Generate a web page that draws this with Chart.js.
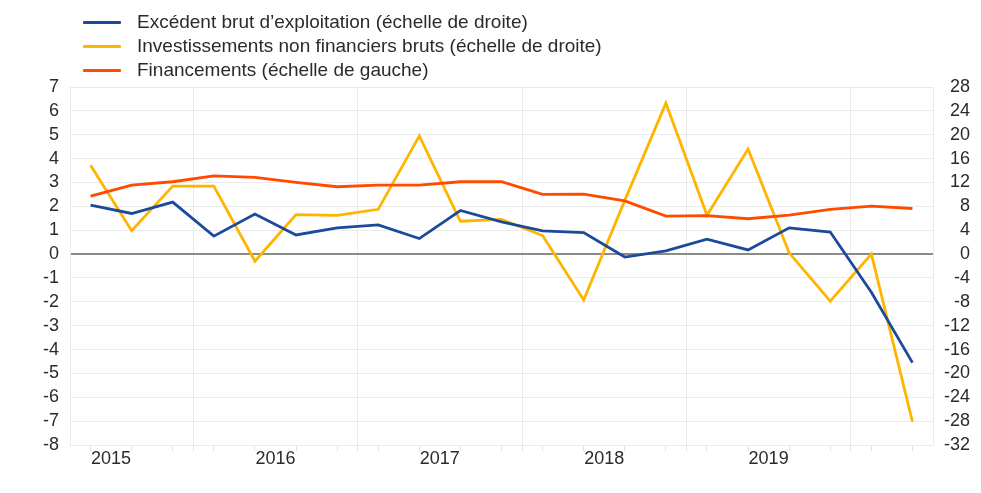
<!DOCTYPE html>
<html>
<head>
<meta charset="utf-8">
<script src="https://cdn.jsdelivr.net/npm/chart.js@4"></script>
<style>
  html, body { margin: 0; padding: 0; background: #fff; }
  #wrap { position: relative; width: 981px; height: 493px; }
  #legend { position: absolute; left: 83px; top: 10px; font-family: "Liberation Sans", Arial, Helvetica, sans-serif; font-size: 19px; color: #2b2b2b; }
  .item { position: relative; height: 24px; line-height: 24px; white-space: nowrap; }
  .swatch { position: absolute; left: 0; top: 11px; width: 38px; height: 3px; border-radius: 1px; }
  .label { position: absolute; left: 54px; top: 0; }
</style>
</head>
<body>
<div id="wrap">
  <canvas id="c" width="981" height="493"></canvas>
  <div id="legend"></div>
</div>
<script>
// Quarterly categories (2015 Q2 - 2020 Q2)
const quarters = ['2015Q2','2015Q3','2015Q4','2016Q1','2016Q2','2016Q3','2016Q4','2017Q1','2017Q2','2017Q3','2017Q4',
                  '2018Q1','2018Q2','2018Q3','2018Q4','2019Q1','2019Q2','2019Q3','2019Q4','2020Q1','2020Q2'];
// Year tick labels
const years = ['2015','2016','2017','2018','2019'];
// Series names
const seriesNames = ['Excédent brut d\u2019exploitation (échelle de droite)',
                     'Investissements non financiers bruts (échelle de droite)',
                     'Financements (échelle de gauche)'];
// Right scale
const excedent = [8.2, 6.8, 8.7, 3.0, 6.7, 3.2, 4.4, 4.9, 2.6, 7.3, 5.4, 3.9, 3.6, -0.5, 0.55, 2.5, 0.7, 4.4, 3.7, -6.4, -18.2];
const investissements = [14.9, 3.9, 11.4, 11.4, -1.2, 6.6, 6.5, 7.5, 19.8, 5.5, 5.8, 3.1, -7.7, 9.0, 25.3, 6.5, 17.6, 0.2, -7.9, 0.0, -28.1];
// Left scale
const financements = [2.43, 2.89, 3.03, 3.28, 3.21, 3.0, 2.82, 2.89, 2.89, 3.03, 3.03, 2.5, 2.51, 2.23, 1.59, 1.61, 1.48, 1.63, 1.87, 2.01, 1.91];
// Axis ticks
const leftTicks = [-8,-7,-6,-5,-4,-3,-2,-1,0,1,2,3,4,5,6,7];
const rightTicks = [-32,-28,-24,-20,-16,-12,-8,-4,0,4,8,12,16,20,24,28];

const colors = ['#1b4a9c', '#ffb400', '#ff4b00'];
const FONT = '"Liberation Sans", Arial, Helvetica, sans-serif';

function pts(arr) { return arr.map((v, i) => ({x: i, y: v})); }

// x ticks: data positions, year boundaries and year label positions
const yearBoundaries = [];
const yearCenters = [];
quarters.forEach((q, i) => {
  if (q.endsWith('Q4') && i + 1 < quarters.length) yearBoundaries.push(i + 0.5);
  if (q.endsWith('Q2') && years.includes(q.slice(0, 4))) yearCenters.push(i + 0.5);
});
function isBoundary(v) { return yearBoundaries.some(b => Math.abs(b - v) < 1e-6); }
function centerIndex(v) { return yearCenters.findIndex(b => Math.abs(b - v) < 1e-6); }

const ctx = document.getElementById('c').getContext('2d');
const chart = new Chart(ctx, {
  type: 'line',
  data: {
    datasets: [
      { label: seriesNames[0], data: pts(excedent), yAxisID: 'yR', borderColor: colors[0], backgroundColor: colors[0], order: 1 },
      { label: seriesNames[1], data: pts(investissements), yAxisID: 'yR', borderColor: colors[1], backgroundColor: colors[1], order: 2 },
      { label: seriesNames[2], data: pts(financements), yAxisID: 'y', borderColor: colors[2], backgroundColor: colors[2], order: 0 }
    ]
  },
  options: {
    responsive: false,
    animation: false,
    devicePixelRatio: 1,
    layout: { padding: { top: 87, bottom: 18, left: 0, right: 11 } },
    elements: {
      line: { borderWidth: 2.8, tension: 0, borderCapStyle: 'butt', borderJoinStyle: 'miter' },
      point: { radius: 0, hoverRadius: 0 }
    },
    plugins: { legend: { display: false }, tooltip: { enabled: false } },
    scales: {
      x: {
        type: 'linear',
        min: -0.5,
        max: quarters.length - 0.5,
        afterBuildTicks: (scale) => {
          const vals = [];
          quarters.forEach((q, i) => vals.push(i));
          yearBoundaries.forEach(v => vals.push(v));
          yearCenters.forEach(v => vals.push(v));
          vals.sort((a, b) => a - b);
          scale.ticks = vals.map(v => ({ value: v }));
        },
        afterFit: (scale) => { scale.height = 30; },
        grid: {
          color: (c) => (c.tick && isBoundary(c.tick.value)) ? '#ebebeb' : 'rgba(0,0,0,0)',
          tickColor: (c) => (c.tick && (isBoundary(c.tick.value) || Number.isInteger(c.tick.value))) ? '#e2e2e2' : 'rgba(0,0,0,0)',
          tickLength: 6,
          lineWidth: 1
        },
        border: { display: true, color: '#ebebeb', width: 1 },
        ticks: {
          autoSkip: false,
          maxRotation: 0,
          padding: -3,
          color: '#2b2b2b',
          font: { family: FONT, size: 18 },
          callback: (v) => { const k = centerIndex(v); return k >= 0 ? years[k] : ''; }
        }
      },
      y: {
        type: 'linear',
        position: 'left',
        min: leftTicks[0],
        max: leftTicks[leftTicks.length - 1],
        afterBuildTicks: (scale) => { scale.ticks = leftTicks.map(v => ({ value: v })); },
        afterFit: (scale) => { scale.width = 70; },
        grid: {
          color: (c) => (c.tick && c.tick.value === 0) ? '#8a8a8a' : '#ebebeb',
          lineWidth: (c) => (c.tick && c.tick.value === 0) ? 2 : 1,
          drawTicks: false
        },
        border: { display: true, color: '#ebebeb', width: 1 },
        ticks: { autoSkip: false, padding: 11, color: '#2b2b2b', font: { family: FONT, size: 18 }, callback: (v) => String(v) }
      },
      yR: {
        type: 'linear',
        position: 'right',
        min: rightTicks[0],
        max: rightTicks[rightTicks.length - 1],
        afterBuildTicks: (scale) => { scale.ticks = rightTicks.map(v => ({ value: v })); },
        afterFit: (scale) => { scale.width = 37; },
        grid: { drawOnChartArea: false, drawTicks: false },
        border: { display: true, color: '#ebebeb', width: 1 },
        ticks: { autoSkip: false, padding: 0, crossAlign: 'far', color: '#2b2b2b', font: { family: FONT, size: 18 }, callback: (v) => String(v) }
      }
    }
  }
});

// HTML legend built from the chart's datasets
const legend = document.getElementById('legend');
chart.data.datasets.forEach((ds) => {
  const item = document.createElement('div');
  item.className = 'item';
  const sw = document.createElement('span');
  sw.className = 'swatch';
  sw.style.background = ds.borderColor;
  const lb = document.createElement('span');
  lb.className = 'label';
  lb.textContent = ds.label;
  item.appendChild(sw);
  item.appendChild(lb);
  legend.appendChild(item);
});
</script>
</body>
</html>
